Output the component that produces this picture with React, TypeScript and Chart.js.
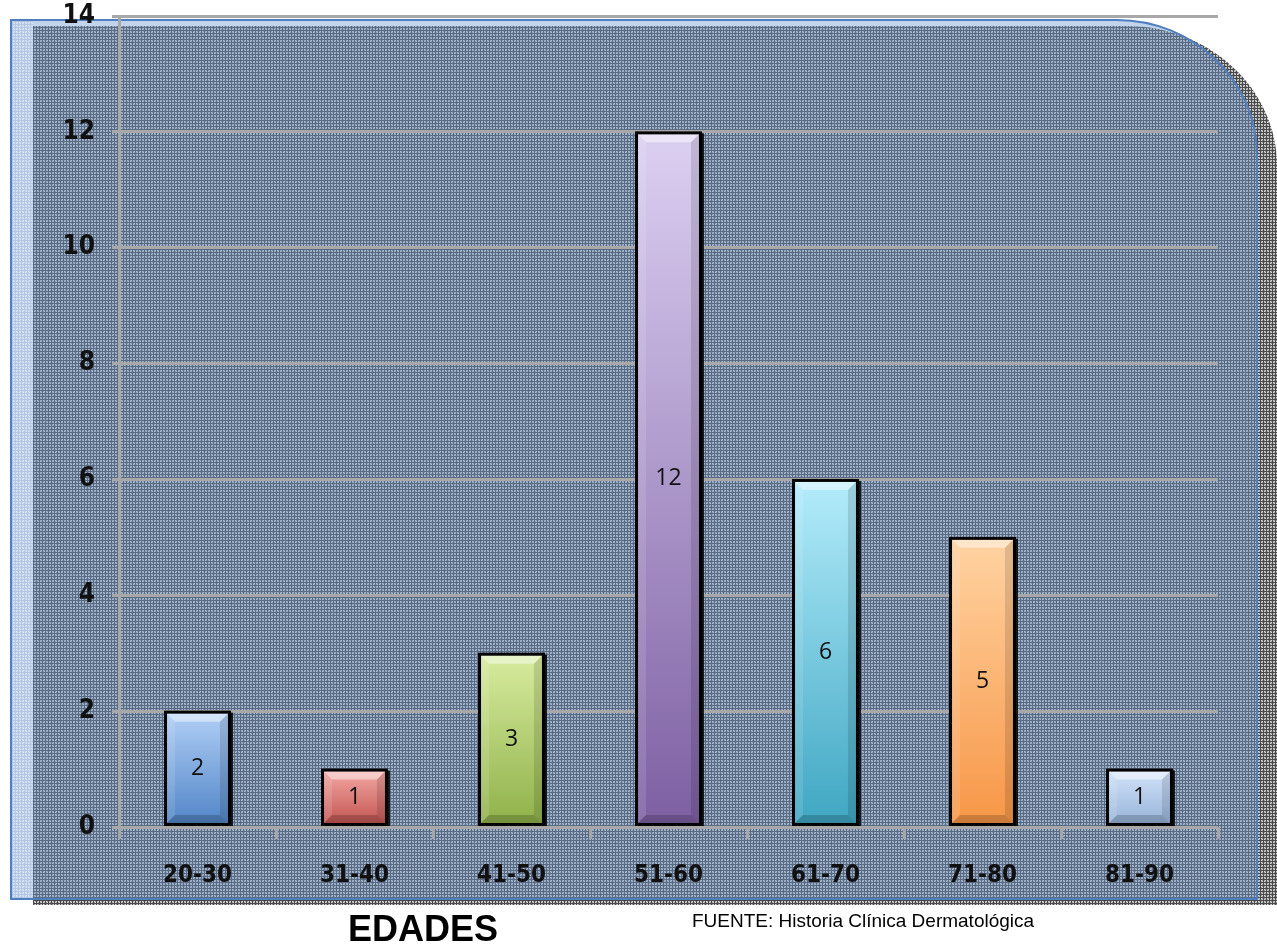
import React, { useEffect, useRef } from "react";
import { Chart, registerables } from "chart.js";

Chart.register(...registerables);

const categories = ["20-30", "31-40", "41-50", "51-60", "61-70", "71-80", "81-90"];
const values = [2, 1, 3, 12, 6, 5, 1];
const topColors = ["#b2d0f6", "#f4aaa6", "#d8ec9f", "#dcd0f2", "#b4ecfb", "#ffd3a2", "#d4e4fa"];
const bottomColors = ["#4f83c6", "#c0504d", "#8eb048", "#7d5fa2", "#3ea6c2", "#f79646", "#93b1d8"];
const yMin = 0;
const yMax = 14;
const yStep = 2;
const xTitle = "EDADES";
const sourceNote = "FUENTE: Historia Clínica Dermatológica";

const W = 1277;
const H = 947;
const tickFont = '"Liberation Sans Narrow", "DejaVu Sans Condensed", "Liberation Sans", sans-serif';

function makePattern(ctx: CanvasRenderingContext2D, base: string, line: string, light: string) {
  const t = document.createElement("canvas");
  t.width = 6;
  t.height = 6;
  const c = t.getContext("2d")!;
  c.fillStyle = base;
  c.fillRect(0, 0, 6, 6);
  c.fillStyle = light;
  for (let i = 0; i < 6; i++) for (let j = 0; j < 6; j++) if ((i + j) % 2 === 0) c.fillRect(i, j, 1, 1);
  c.fillStyle = line;
  c.fillRect(0, 0, 6, 1);
  c.fillRect(0, 3, 6, 1);
  c.fillRect(0, 0, 1, 6);
  c.fillRect(3, 0, 1, 6);
  return ctx.createPattern(t, "repeat")!;
}

function roundRectTR(ctx: CanvasRenderingContext2D, x0: number, y0: number, x1: number, y1: number, rx: number, ry: number) {
  ctx.beginPath();
  ctx.moveTo(x0, y0);
  ctx.lineTo(x1 - rx, y0);
  ctx.bezierCurveTo(x1 - rx * 0.45, y0, x1, y0 + ry * 0.45, x1, y0 + ry);
  ctx.lineTo(x1, y1);
  ctx.lineTo(x0, y1);
  ctx.closePath();
}

const backgroundPlugin = {
  id: "frameBg",
  beforeDraw(chart: any) {
    const ctx: CanvasRenderingContext2D = chart.ctx;
    ctx.save();
    const gray = makePattern(ctx, "#d4d4d4", "#4a4a4a", "#a0a0a0");
    roundRectTR(ctx, 33, 26, 1277, 905, 150, 140);
    ctx.fillStyle = gray;
    ctx.fill();
    const light = makePattern(ctx, "#dbe6f4", "#b3c7e2", "#c6d6ec");
    ctx.fillStyle = light;
    ctx.fillRect(11, 20, 22, 879);
    ctx.save();
    roundRectTR(ctx, 11, 20, 1257, 899, 140, 135);
    ctx.clip();
    ctx.fillStyle = "rgba(110,150,210,0.42)";
    ctx.fillRect(33, 20, 1240, 885);
    ctx.restore();
    roundRectTR(ctx, 11, 20, 1257, 899, 140, 135);
    ctx.strokeStyle = "#4f7fc0";
    ctx.lineWidth = 2;
    ctx.stroke();
    ctx.restore();
  },
};

const bevelPlugin = {
  id: "bevel",
  afterDatasetsDraw(chart: any) {
    const ctx: CanvasRenderingContext2D = chart.ctx;
    const meta = chart.getDatasetMeta(0);
    ctx.save();
    meta.data.forEach((bar: any, i: number) => {
      const w = bar.width;
      const l = bar.x - w / 2 + 1.5;
      const r = bar.x + w / 2 - 1.5;
      const t = bar.y + 1.5;
      const b = bar.base - 1.5;
      const d = Math.min(9, (b - t) / 2);
      ctx.fillStyle = "rgba(255,255,255,0.45)";
      ctx.beginPath();
      ctx.moveTo(l, t); ctx.lineTo(r, t); ctx.lineTo(r - d, t + d); ctx.lineTo(l + d, t + d); ctx.closePath();
      ctx.fill();
      ctx.fillStyle = "rgba(255,255,255,0.12)";
      ctx.beginPath();
      ctx.moveTo(l, t); ctx.lineTo(l + d, t + d); ctx.lineTo(l + d, b - d); ctx.lineTo(l, b); ctx.closePath();
      ctx.fill();
      ctx.fillStyle = "rgba(0,0,0,0.12)";
      ctx.beginPath();
      ctx.moveTo(r, t); ctx.lineTo(r - d, t + d); ctx.lineTo(r - d, b - d); ctx.lineTo(r, b); ctx.closePath();
      ctx.fill();
      ctx.fillStyle = "rgba(0,0,0,0.18)";
      ctx.beginPath();
      ctx.moveTo(l, b); ctx.lineTo(l + d, b - d); ctx.lineTo(r - d, b - d); ctx.lineTo(r, b); ctx.closePath();
      ctx.fill();
      ctx.strokeStyle = "#000";
      ctx.lineWidth = 3;
      ctx.strokeRect(l - 0.5, t - 0.5, r - l + 1, b - t + 1);
      ctx.fillStyle = "rgba(0,0,0,0.85)";
      ctx.fillRect(r + 1, t, 3, b - t + 2);
      ctx.fillStyle = "#111";
      ctx.font = '23px "Open Sans", "Noto Sans", sans-serif';
      ctx.textAlign = "center";
      ctx.textBaseline = "middle";
      ctx.fillText(String(values[i]), bar.x, (bar.y + bar.base) / 2);
    });
    ctx.restore();
  },
};

export default function App() {
  const ref = useRef<HTMLCanvasElement>(null);
  useEffect(() => {
    const canvas = ref.current!;
    const chart = new Chart(canvas, {
      type: "bar",
      data: {
        labels: categories,
        datasets: [
          {
            data: values,
            backgroundColor: (c: any) => {
              const ch = c.chart;
              const ys = ch.scales && ch.scales.y;
              const i = c.dataIndex;
              if (!ys || i === undefined) return topColors[0];
              const top = ys.getPixelForValue(values[i]);
              const bot = ys.getPixelForValue(0);
              if (!isFinite(top) || !isFinite(bot) || top === bot) return topColors[i];
              const g = ch.ctx.createLinearGradient(0, top, 0, bot);
              g.addColorStop(0, topColors[i]);
              g.addColorStop(1, bottomColors[i]);
              return g;
            },
            borderWidth: 0,
            barPercentage: 0.42,
            categoryPercentage: 1,
          },
        ],
      },
      options: {
        animation: false,
        responsive: false,
        devicePixelRatio: 1,
        layout: { padding: { top: 0, right: 59, left: 0, bottom: 0 } },
        plugins: { legend: { display: false }, tooltip: { enabled: false } },
        scales: {
          x: {
            grid: {
              offset: true,
              drawOnChartArea: false,
              drawTicks: true,
              tickLength: 12,
              color: "#a6a6a6",
              lineWidth: 3,
            },
            border: { display: false },
            ticks: {
              color: "#111",
              padding: 22,
              font: { family: tickFont, size: 24, weight: "bold" },
            },
            afterFit: (s: any) => {
              s.height = 120;
            },
          },
          y: {
            min: yMin,
            max: yMax,
            ticks: {
              stepSize: yStep,
              color: "#111",
              padding: 17,
              font: { family: tickFont, size: 26, weight: "bold" },
            },
            grid: { color: "#a8a8a8", lineWidth: 3, tickLength: 7 },
            border: { display: true, color: "#a8a8a8", width: 3 },
            afterFit: (s: any) => {
              s.width = 119;
              s.paddingTop = 16;
              s.paddingBottom = 0;
            },
          },
        },
      },
      plugins: [backgroundPlugin, bevelPlugin],
    } as any);
    return () => chart.destroy();
  }, []);

  return (
    <div style={{ position: "absolute", left: 0, top: 0, width: W, height: H, background: "#fff", overflow: "hidden" }}>
      <canvas ref={ref} width={W} height={H} style={{ position: "absolute", left: 0, top: 0, width: W, height: H }} />
      <div
        style={{
          position: "absolute",
          left: 423,
          top: 907,
          transform: "translateX(-50%)",
          fontFamily: '"Liberation Sans", Arial, sans-serif',
          fontWeight: "bold",
          fontSize: 36,
          lineHeight: "44px",
          color: "#000",
          whiteSpace: "nowrap",
        }}
      >
        {xTitle}
      </div>
      <div
        style={{
          position: "absolute",
          left: 692,
          top: 909,
          fontFamily: '"Liberation Sans", Arial, sans-serif',
          fontSize: 19,
          lineHeight: "24px",
          color: "#000",
          whiteSpace: "nowrap",
        }}
      >
        {sourceNote}
      </div>
    </div>
  );
}
